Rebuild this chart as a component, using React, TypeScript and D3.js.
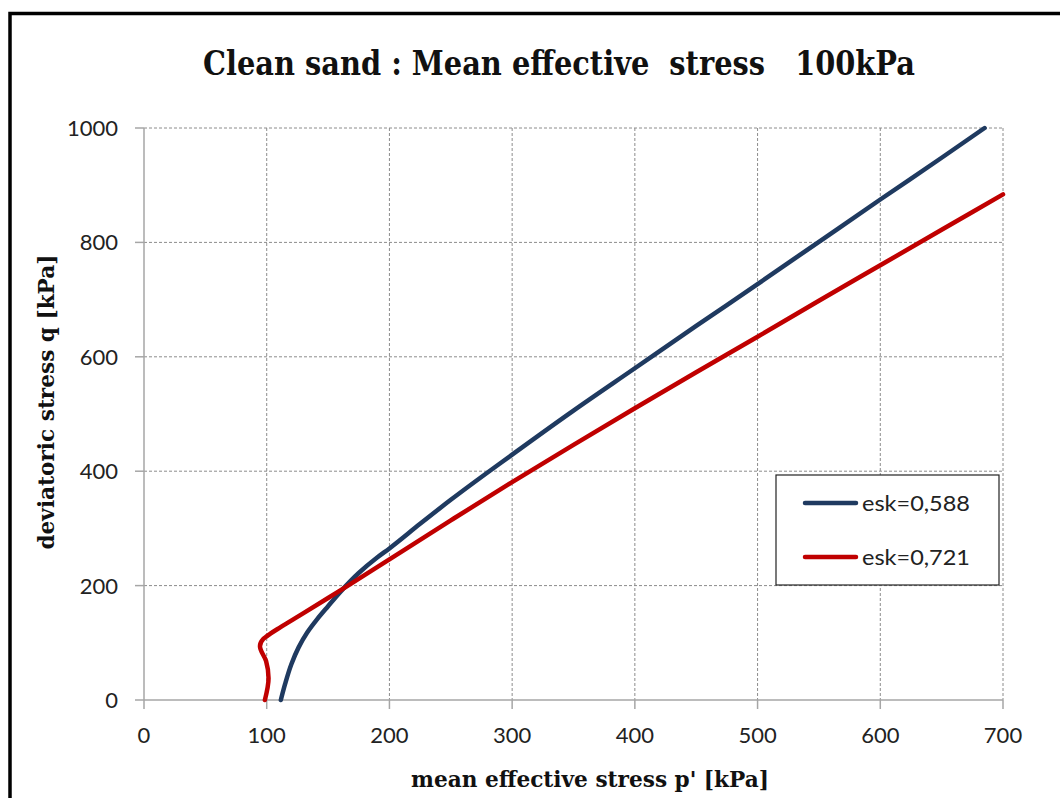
import React from "react";
import * as d3 from "d3";

// Stress path for esk=0,588 (dense sample)
const pDense = [111.5, 115, 120, 126, 133, 141, 150, 160, 175, 190, 200, 225, 250, 300, 350, 400, 450, 500, 550, 600, 650, 685];
const qDense = [0, 28, 62, 92, 118, 141, 164, 189, 222, 249, 265, 308, 350, 429, 506, 580, 654, 727, 801, 875, 948, 1000];

// Stress path for esk=0,721 (looser sample)
const pLoose = [98.5, 101.5, 99.5, 94.5, 97, 103, 111, 127, 149, 164, 200, 250, 300, 350, 400, 450, 500, 550, 600, 650, 700];
const qLoose = [0, 38, 68, 94, 106, 116, 127, 148, 177, 197, 246, 314, 381, 446, 510, 573, 635, 698, 760, 822, 884];

const xTicks = [0, 100, 200, 300, 400, 500, 600, 700];
const yTicks = [0, 200, 400, 600, 800, 1000];

const seriesNames = ["esk=0,588", "esk=0,721"];
const seriesColors = ["#1F3A60", "#C00000"];

const W = 1060;
const H = 798;
const plot = { left: 144, right: 1003, top: 128, bottom: 700 };

export default function App() {
  const x = d3.scaleLinear().domain([0, 700]).range([plot.left, plot.right]);
  const y = d3.scaleLinear().domain([0, 1000]).range([plot.bottom, plot.top]);

  // q rises monotonically along both paths, so a monotone-in-y curve keeps them smooth
  const line = d3
    .line<[number, number]>()
    .x((d) => x(d[0]))
    .y((d) => y(d[1]))
    .curve(d3.curveMonotoneY);

  const series = [
    pDense.map((p, i) => [p, qDense[i]] as [number, number]),
    pLoose.map((p, i) => [p, qLoose[i]] as [number, number]),
  ];

  const tickFont = "Lato, 'Open Sans', sans-serif";
  const titleFont = "'DejaVu Serif', serif";
  const gridColor = "#8c8c8c";
  const axisColor = "#a6a6a6";

  const legend = { x: 776, y: 475, w: 223, h: 110 };

  return (
    <svg
      width={W}
      height={H}
      style={{ position: "absolute", left: 0, top: 0, background: "#fff" }}
    >
      <rect x={0} y={0} width={W} height={H} fill="#fff" />
      {/* chart frame */}
      <rect x={10} y={13.5} width={1200} height={1000} fill="none" stroke="#000" strokeWidth={3.5} />

      {/* title */}
      <text
        x={559}
        y={75}
        textAnchor="middle"
        fontFamily={titleFont}
        fontWeight="bold"
        fontSize={34}
        fill="#111"
        textLength={712}
        lengthAdjust="spacingAndGlyphs"
        style={{ whiteSpace: "pre" }}
      >
        {"Clean sand : Mean effective  stress   100kPa"}
      </text>

      {/* grid */}
      {xTicks.slice(1).map((t) => (
        <line key={"gx" + t} x1={x(t)} x2={x(t)} y1={plot.top} y2={plot.bottom} stroke={gridColor} strokeWidth={1} strokeDasharray="3,2" />
      ))}
      {yTicks.slice(1).map((t) => (
        <line key={"gy" + t} x1={plot.left} x2={plot.right} y1={y(t)} y2={y(t)} stroke={gridColor} strokeWidth={1} strokeDasharray="3,2" />
      ))}

      {/* axes */}
      <line x1={plot.left} x2={plot.left} y1={plot.top} y2={plot.bottom} stroke={axisColor} strokeWidth={1.5} />
      <line x1={plot.left} x2={plot.right} y1={plot.bottom} y2={plot.bottom} stroke={axisColor} strokeWidth={1.5} />
      {xTicks.map((t) => (
        <line key={"tx" + t} x1={x(t)} x2={x(t)} y1={plot.bottom} y2={plot.bottom + 9} stroke={axisColor} strokeWidth={1.5} />
      ))}
      {yTicks.map((t) => (
        <line key={"ty" + t} x1={plot.left - 9} x2={plot.left} y1={y(t)} y2={y(t)} stroke={axisColor} strokeWidth={1.5} />
      ))}

      {/* tick labels */}
      {xTicks.map((t) => (
        <text key={"lx" + t} x={x(t)} y={743} textAnchor="middle" fontFamily={tickFont} fontSize={22} fill="#222">
          {t}
        </text>
      ))}
      {yTicks.map((t) => (
        <text key={"ly" + t} x={118} y={y(t)} dy="0.36em" textAnchor="end" fontFamily={tickFont} fontSize={22} fill="#222">
          {t}
        </text>
      ))}

      {/* axis titles */}
      <text
        x={590}
        y={787}
        textAnchor="middle"
        fontFamily={titleFont}
        fontWeight="bold"
        fontSize={22}
        fill="#111"
        textLength={358}
        lengthAdjust="spacingAndGlyphs"
      >
        mean effective stress p' [kPa]
      </text>
      <text
        transform="translate(54,402) rotate(-90)"
        textAnchor="middle"
        fontFamily={titleFont}
        fontWeight="bold"
        fontSize={22}
        fill="#111"
        textLength={295}
        lengthAdjust="spacingAndGlyphs"
      >
        deviatoric stress q [kPa]
      </text>

      {/* stress paths */}
      {series.map((s, i) => (
        <path key={"s" + i} d={line(s) || ""} fill="none" stroke={seriesColors[i]} strokeWidth={4.5} strokeLinejoin="round" strokeLinecap="round" />
      ))}

      {/* legend */}
      <rect x={legend.x} y={legend.y} width={legend.w} height={legend.h} fill="#fff" stroke="#222" strokeWidth={1.2} />
      {seriesNames.map((name, i) => {
        const ly = 503 + i * 54;
        return (
          <g key={"lg" + i}>
            <line x1={805} x2={856} y1={ly} y2={ly} stroke={seriesColors[i]} strokeWidth={4.5} strokeLinecap="round" />
            <text x={862} y={ly} dy="0.36em" fontFamily={tickFont} fontSize={22} fill="#222" textLength={108} lengthAdjust="spacingAndGlyphs">
              {name}
            </text>
          </g>
        );
      })}
    </svg>
  );
}
